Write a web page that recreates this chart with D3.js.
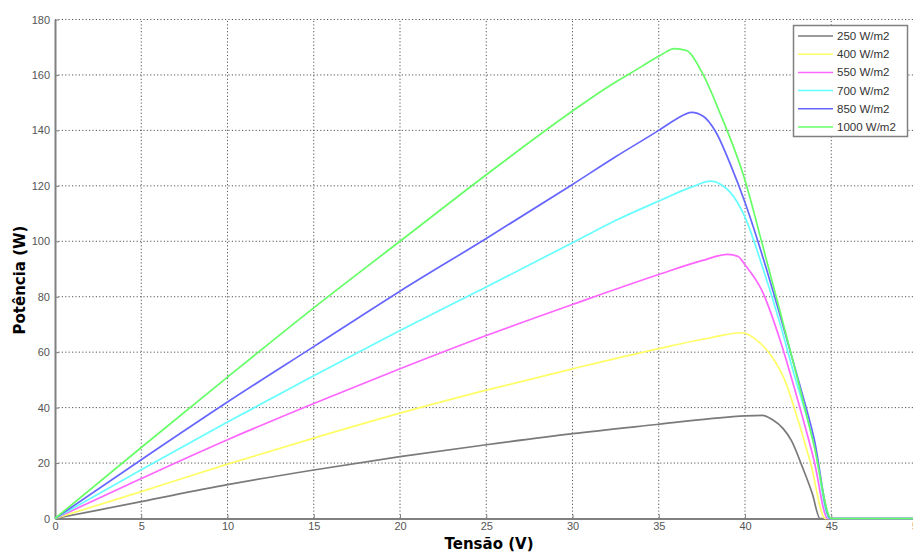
<!DOCTYPE html>
<html>
<head>
<meta charset="utf-8">
<script src="https://cdn.jsdelivr.net/npm/d3@7"></script>
<style>
	body { margin: 0; background: #fff; }
	svg { display: block; font-family: "Liberation Sans", Arial, sans-serif; }
	.grid line { stroke: #555; stroke-width: 1; stroke-dasharray: 1.2,2.2; }
	.axis path, .axis line { stroke: #808080; }
	.axis text { fill: #555; font-size: 11px; }
	.title { font-family: "DejaVu Sans", sans-serif; font-weight: bold; font-size: 15px; fill: #000; }
	.legend text { font-size: 11.5px; fill: #333; }
</style>
</head>
<body>
<svg width="913" height="553"></svg>
<script>

// values: [Tensão (V), Potência (W)]
var seriesNames = ["250 W/m2", "400 W/m2", "550 W/m2", "700 W/m2", "850 W/m2", "1000 W/m2"];
var seriesColors = ["#7a7a7a", "#ffff66", "#ff66ff", "#66ffff", "#6666ff", "#66ff66"];

var p250 = [[0,0],[5,6.1],[10,12.2],[15,17.5],[20,22.3],[25,26.6],[30,30.6],[35,34],[38,36],[40,37],[41,37.2],[41.6,35.6],[42.2,32.5],[42.7,28],[43.3,19],[43.9,9],[44.35,0],[50,0]];
var p400 = [[0,0],[5,9.7],[10,19.6],[15,29],[20,38],[25,46.3],[30,54],[35,61.3],[38,65.2],[39.8,67],[40.8,63.7],[41.6,58],[42.3,50],[43,37],[43.8,20],[44.65,0],[50,0]];
var p550 = [[0,0],[5,14.4],[10,28.4],[15,41.5],[20,54],[25,66],[30,77.2],[35,88],[37.5,93],[39,95.3],[39.6,94.5],[40,91.5],[41,82],[42,65],[43,44],[44,21],[44.8,0],[50,0]];
var p700 = [[0,0],[5,17.6],[10,34.8],[15,51.5],[20,67.8],[25,83.5],[30,99.5],[32.5,107.5],[35,114.5],[37,119.8],[38,121.7],[38.6,120.5],[39.1,118],[40,108.7],[41,91],[42,71],[42.8,53],[44,27],[44.9,0],[50,0]];
var p850 = [[0,0],[5,21.2],[10,42],[15,62],[20,82],[25,101],[30,120.5],[32.5,130.5],[35,140],[36,144],[36.9,146.5],[37.6,145],[38.3,139.5],[39.2,127],[40,114],[41,95],[42,74],[43,52],[44,29],[44.95,0],[50,0]];
var p1000 = [[0,0],[5,25.6],[10,51],[15,76],[20,100],[25,124],[30,147],[32,155.5],[34,163],[35.2,167.5],[35.9,169.5],[36.6,168.8],[37.5,161],[38.5,147],[40,122],[41,99],[42,75.5],[43,51.5],[44,26.5],[45,0],[50,0]];
var seriesData = [p250, p400, p550, p700, p850, p1000];

var xTicks = [0, 5, 10, 15, 20, 25, 30, 35, 40, 45, 50];
var yTicks = [0, 20, 40, 60, 80, 100, 120, 140, 160, 180];

var svg = d3.select("svg");

var x = d3.scaleLinear().domain([0, 50]).range([55, 917.5]);
var y = d3.scaleLinear().domain([0, 180]).range([518.5, 19.5]);

// grid
var grid = svg.append("g").attr("class", "grid");
grid.selectAll(".gx").data(xTicks.slice(1)).enter().append("line")
	.attr("x1", function(d) { return x(d); }).attr("x2", function(d) { return x(d); })
	.attr("y1", y(0)).attr("y2", y(180));
grid.selectAll(".gy").data(yTicks.slice(1)).enter().append("line")
	.attr("x1", x(0)).attr("x2", x(50))
	.attr("y1", function(d) { return y(d); }).attr("y2", function(d) { return y(d); });

// axes (ticks pointing inward like matlab)
var xAxis = svg.append("g").attr("class", "axis")
	.attr("transform", "translate(0," + y(0) + ")")
	.call(d3.axisBottom(x).tickValues(xTicks).tickSizeInner(-4).tickSizeOuter(0).tickPadding(4));
xAxis.select(".domain").attr("stroke-width", 2);

var yAxis = svg.append("g").attr("class", "axis")
	.attr("transform", "translate(" + x(0) + ",0)")
	.call(d3.axisLeft(y).tickValues(yTicks).tickSizeInner(-4).tickSizeOuter(0).tickPadding(5));
yAxis.select(".domain").attr("stroke-width", 2);

// curves
var line = d3.line()
	.x(function(d) { return x(d[0]); })
	.y(function(d) { return y(d[1]); })
	.curve(d3.curveMonotoneX);

svg.append("g").selectAll("path").data(seriesData).enter().append("path")
	.attr("d", line)
	.attr("fill", "none")
	.attr("stroke", function(d, i) { return seriesColors[i]; })
	.attr("stroke-width", 1.7);

// titles
svg.append("text").attr("class", "title")
	.attr("x", 489).attr("y", 549)
	.attr("text-anchor", "middle")
	.text("Tensão (V)");
svg.append("text").attr("class", "title")
	.attr("transform", "translate(25,280) rotate(-90)")
	.attr("text-anchor", "middle")
	.text("Potência (W)");

// legend
var legend = svg.append("g").attr("class", "legend");
legend.append("rect")
	.attr("x", 793.5).attr("y", 25.5).attr("width", 114).attr("height", 111)
	.attr("fill", "#fff").attr("stroke", "#808080").attr("stroke-width", 1.5);
var item = legend.selectAll(".item").data(seriesNames).enter().append("g")
	.attr("transform", function(d, i) { return "translate(0," + (36 + i * 18.2) + ")"; });
item.append("line")
	.attr("x1", 798).attr("x2", 833)
	.attr("stroke", function(d, i) { return seriesColors[i]; })
	.attr("stroke-width", 1.5);
item.append("text")
	.attr("x", 837).attr("y", 4)
	.text(function(d) { return d; });

</script>
</body>
</html>
